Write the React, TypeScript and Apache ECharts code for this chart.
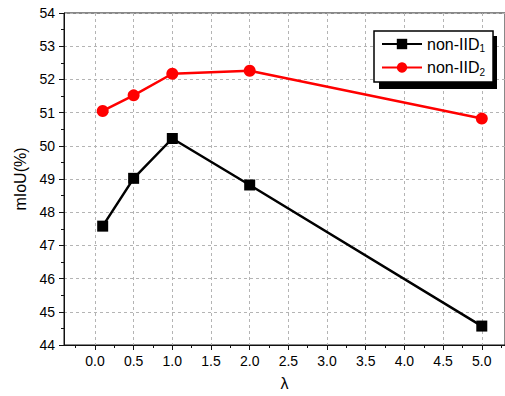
import React, { useEffect, useRef } from "react";
import * as echarts from "echarts";

const lambdas = [0.1, 0.5, 1.0, 2.0, 5.0];
const nonIID1 = [47.58, 49.02, 50.22, 48.82, 44.57];
const nonIID2 = [51.05, 51.52, 52.17, 52.26, 50.82];
const seriesNames = ["non-IID1", "non-IID2"];
const xMajorTicks = [0, 0.5, 1, 1.5, 2, 2.5, 3, 3.5, 4, 4.5, 5];
const xMinorTicks = [-0.25, 0.25, 0.75, 1.25, 1.75, 2.25, 2.75, 3.25, 3.75, 4.25, 4.75, 5.25];

const FONT = "'Liberation Sans', Arial, sans-serif";

export default function App() {
  const ref = useRef<HTMLDivElement>(null);
  useEffect(() => {
    if (!ref.current) return;
    const chart = echarts.init(ref.current, null, { renderer: "svg" });
    const axisColor = "#111";
    const splitLine = {
      show: true,
      lineStyle: { color: "#b4b4b4", type: [3, 3] as any, width: 1 },
    };
    chart.setOption({
      animation: false,
      backgroundColor: "#fff",
      textStyle: { fontFamily: FONT },
      grid: {
        left: 64,
        top: 13,
        right: 0,
        bottom: 50,
        show: true,
        borderColor: axisColor,
        borderWidth: 1,
        containLabel: false,
      },
      graphic: [
        {
          type: "rect",
          left: 379,
          top: 36,
          shape: { width: 118, height: 53 },
          style: { fill: "#000" },
          z: 3,
        },
      ],
      legend: {
        left: 374,
        top: 31,
        orient: "vertical",
        backgroundColor: "#fff",
        borderColor: "#000",
        borderWidth: 1.5,
        borderRadius: 0,
        padding: [5, 8, 5, 7],
        itemGap: 6,
        itemWidth: 40,
        itemHeight: 13,
        z: 5,
        data: seriesNames,
        formatter: (name: string) => name.replace(/(\d)$/, "{sub|$1}"),
        textStyle: {
          fontFamily: FONT,
          fontSize: 16,
          color: "#000",
          rich: {
            sub: { fontSize: 10, fontFamily: FONT, color: "#000", padding: [9, 0, 0, 0] },
          },
        },
      },
      xAxis: [
        {
          type: "value",
          min: -0.4,
          max: 5.3,
          minInterval: 0.5,
          maxInterval: 0.5,
          name: "λ",
          nameLocation: "middle",
          nameGap: 30,
          nameTextStyle: { fontSize: 16, color: "#000", fontFamily: FONT },
          axisLine: { show: true, onZero: false, lineStyle: { color: axisColor, width: 1 } },
          axisTick: { show: true, length: 5, customValues: xMajorTicks, lineStyle: { color: axisColor } },
          axisLabel: {
            customValues: xMajorTicks,
            formatter: (v: number) => v.toFixed(1),
            fontSize: 14,
            color: "#000",
            margin: 9,
            fontFamily: FONT,
          },
          splitLine,
        },
        {
          type: "value",
          min: -0.4,
          max: 5.3,
          position: "bottom",
          offset: 0,
          axisLine: { show: false, onZero: false },
          axisTick: { show: true, length: 3, customValues: xMinorTicks, lineStyle: { color: axisColor } },
          axisLabel: { show: false },
          splitLine: { show: false },
        },
      ],
      yAxis: {
        type: "value",
        min: 44,
        max: 54,
        interval: 1,
        name: "mIoU(%)",
        nameLocation: "middle",
        nameGap: 34,
        nameTextStyle: { fontSize: 16, color: "#000", fontFamily: FONT },
        axisLine: { show: true, onZero: false, lineStyle: { color: axisColor, width: 1 } },
        axisTick: { show: true, length: 5, lineStyle: { color: axisColor } },
        minorTick: { show: true, splitNumber: 2, length: 3, lineStyle: { color: axisColor } },
        axisLabel: { fontSize: 14, color: "#000", margin: 9, fontFamily: FONT },
        splitLine,
      },
      series: [
        {
          name: seriesNames[0],
          type: "line",
          xAxisIndex: 0,
          data: lambdas.map((x, i) => [x, nonIID1[i]]),
          symbol: "rect",
          symbolSize: 11,
          itemStyle: { color: "#000" },
          lineStyle: { color: "#000", width: 2.5 },
          z: 3,
        },
        {
          name: seriesNames[1],
          type: "line",
          xAxisIndex: 0,
          data: lambdas.map((x, i) => [x, nonIID2[i]]),
          symbol: "circle",
          symbolSize: 12,
          itemStyle: { color: "#ff0000" },
          lineStyle: { color: "#ff0000", width: 2.5 },
          z: 3,
        },
      ],
    });
    return () => chart.dispose();
  }, []);
  return (
    <div
      ref={ref}
      style={{ position: "absolute", left: 0, top: 0, width: 505, height: 396 }}
    />
  );
}
